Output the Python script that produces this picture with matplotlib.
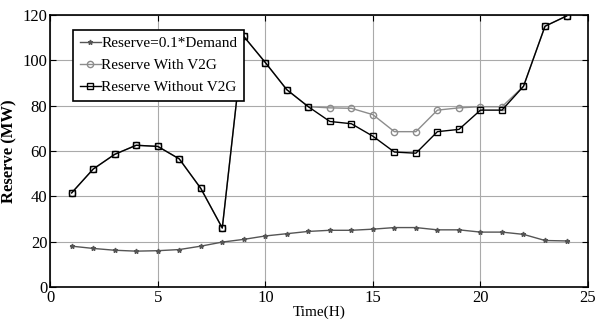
import matplotlib.pyplot as plt

plt.rcParams['font.family'] = ['Liberation Serif', 'DejaVu Serif']

# ------------------------
# Data
# ------------------------
hours = list(range(1, 25))

demand_reserve = [18, 17, 16.2, 15.8, 16, 16.5, 18, 19.8, 21, 22.5, 23.5, 24.5,
                  25, 25, 25.5, 26.2, 26.2, 25.2, 25.2, 24.2, 24.2, 23.2, 20.5, 20.3]

with_v2g = [41.5, 52, 58.5, 62.5, 62, 56.5, 43.5, 26, 110.5, 99, 87, 79.5,
            79, 78.8, 76, 68.5, 68.5, 78, 79, 79.5, 79.5, 88.5, 115, 119.5]

without_v2g = [41.5, 52, 58.5, 62.5, 62, 56.5, 43.5, 26, 110.5, 99, 87, 79.5,
               73, 72, 66.5, 59.5, 59, 68.5, 69.5, 78, 78, 88.5, 115, 119.5]

x_ticks = [0, 5, 10, 15, 20, 25]
y_ticks = [0, 20, 40, 60, 80, 100, 120]

# ------------------------
# Plot
# ------------------------
fig = plt.figure(figsize=(5.97, 3.31), dpi=100)
ax = fig.add_axes([0.084, 0.133, 0.901, 0.822])

ax.plot(hours, demand_reserve, color='#555555', lw=1.0, marker='*',
        ms=3.5, mec='#555555', label='Reserve=0.1*Demand')
ax.plot(hours, with_v2g, color='#8c8c8c', lw=1.0, marker='o', ms=4.5,
        mfc='none', mec='#8c8c8c', label='Reserve With V2G')
ax.plot(hours, without_v2g, color='black', lw=1.0, marker='s', ms=4.5,
        mfc='none', mec='black', label='Reserve Without V2G')

ax.set_xlim(0, 25)
ax.set_ylim(0, 120)
ax.set_xticks(x_ticks)
ax.set_yticks(y_ticks)
ax.tick_params(direction='in', top=True, right=True, labelsize=12, length=4, pad=2)
ax.grid(True, color='#aaaaaa', lw=0.8)
for s in ax.spines.values():
    s.set_linewidth(1.2)

ax.set_xlabel('Time(H)', fontsize=11, labelpad=0)
ax.set_ylabel('Reserve (MW)', fontsize=12, fontweight='bold', labelpad=4)

leg = ax.legend(loc='upper left', fontsize=11, handlelength=1.4,
                handletextpad=0.0, borderpad=0.45, labelspacing=0.55,
                fancybox=False, framealpha=1, edgecolor='black',
                bbox_to_anchor=(0.028, 0.974))
leg.get_frame().set_linewidth(1.2)

plt.savefig('out.png', dpi=100)
